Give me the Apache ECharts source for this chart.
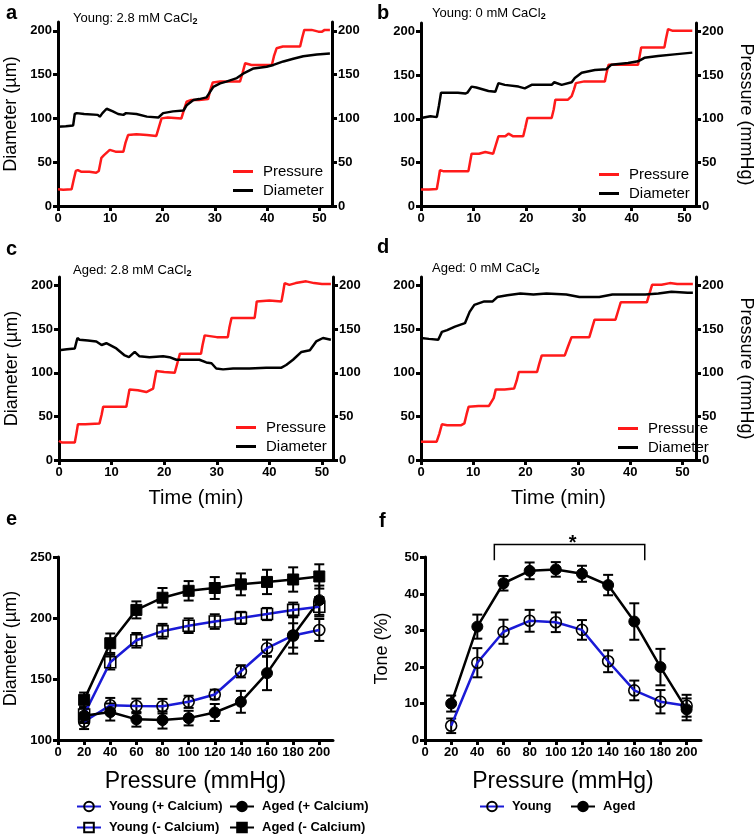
<!DOCTYPE html>
<html>
<head>
<meta charset="utf-8">
<script src="https://cdn.jsdelivr.net/npm/echarts@6/dist/echarts.min.js"></script>
<style>
html, body { margin: 0; padding: 0; background: #fff; }
#chart { width: 756px; height: 835px; }
</style>
</head>
<body>
<div id="chart"></div>
<script>
const aPressure = [[0,19],[1,18.5],[2.6,19],[3.0,30],[3.4,40],[3.8,41],[4.5,39],[6,39],[7.3,38],[7.8,40],[8.3,55],[8.8,58],[9.9,64],[11,62],[12.5,62],[12.9,72],[13.4,81],[15,82],[17,81],[18.8,80],[19.3,90],[19.8,100],[21,101],[23.6,100],[24.1,110],[24.6,119],[25.5,121],[27,121],[28.7,122],[29.1,132],[29.6,141],[31,142],[34.8,142],[35.3,152],[35.8,163],[37,161],[40.9,161],[41.3,171],[41.8,180],[43,182],[46.3,182],[46.7,192],[47.1,201],[48.5,201],[49.8,199],[50.5,199],[51,201],[52,201]];
const aDiameter = [[0,90.5],[1.5,91],[2.9,92],[3.2,105],[3.6,106],[5,105],[7.6,104],[8,102],[8.5,106],[9.3,111],[10.5,108],[11.5,105],[12.5,104],[13,106],[15,105],[17,102],[19.2,101],[20.1,106],[22,108],[24,109],[24.6,115],[25.9,121],[27,122],[28.4,124],[29.7,136],[31,140],[32.2,142],[34.2,146],[35.4,151],[37.4,157],[39.9,159],[41.2,161],[43.1,165],[45,168],[46.9,171],[49.5,173],[52,174]];
const bPressure = [[0,19],[1.5,19],[3,19.5],[3.3,30],[3.6,41],[4.2,40],[6,40],[9,40],[9.3,50],[9.6,60],[11,60],[12.2,62],[13.7,60],[14.2,70],[14.7,80],[16,80],[16.6,83],[17.5,80],[19.4,80],[19.8,90],[20.2,101],[22,101],[24.8,101],[25.2,111],[25.5,122],[27.9,122],[28.6,126],[29,133],[29.4,141],[31,143],[34.9,143],[35.2,152],[35.6,162],[38,162],[41.2,162],[41.5,172],[41.8,182],[44,182],[46.2,182],[46.5,192],[46.9,203],[47.8,201],[51.5,201]];
const bDiameter = [[0,101],[1.8,103],[3,102],[3.4,115],[3.8,130],[5,130],[7,130],[8.4,129],[8.8,130],[9.6,137],[10.5,136],[12.8,132],[14.1,131],[14.7,141],[15.9,139],[18.5,137],[19.7,135],[21,139],[24.8,139],[25.3,142],[26.7,139],[28.6,142],[29.2,147],[30.5,153],[33,156],[35.2,157],[36.1,162],[39.3,164],[41.2,166],[42.4,170],[45,172],[48.1,174],[51.5,176]];
const cPressure = [[0,22],[0.5,20],[3,20],[3.3,30],[3.6,41],[5,41],[7.7,42],[8.1,52],[8.4,61],[10,61],[12.8,61],[13.1,71],[13.4,81],[15,80],[16.6,78],[17.9,82],[18.2,92],[18.5,102],[20,101],[22,100],[22.5,111],[23,122],[25,122],[27,122],[27.3,132],[27.7,143],[30,141],[32.1,141],[32.4,152],[32.8,163],[35,163],[37.2,163],[37.4,172],[37.6,182],[40,183],[42.3,182],[42.6,192],[42.9,203],[43.8,201],[45,203],[47,205],[48.5,203],[50,202],[51.7,202]];
const cDiameter = [[0,126],[1.5,127],[3,128],[3.5,140],[3.9,138],[5.5,137],[7.1,136],[8.1,132],[9,134],[10.9,128],[12.5,120],[13.3,118],[14.4,124],[15.3,119],[17.2,118],[19.8,119],[21,118],[22.3,115],[25.5,115],[26.7,115],[28,112],[29,111],[29.9,105],[31.2,104],[33.1,105],[36.2,105],[39.4,106],[42.3,106],[43.2,109],[44.5,115],[46.1,124],[47.7,126],[48.9,136],[50.2,140],[51.7,138]];
const dPressure = [[0,21],[1.5,21],[3,21],[3.5,30],[4,41],[5,40],[7.7,40],[8.3,42],[8.7,52],[9.1,61],[11,62],[13,62],[13.9,71],[14.3,81],[16,81],[17.8,82],[18.3,91],[18.7,101],[20,101],[22.2,101],[22.6,110],[23.1,120],[25,120],[27.5,120],[28.1,130],[28.8,141],[30,141],[32.2,141],[32.7,151],[33.2,161],[35,161],[37.2,161],[37.7,171],[38.2,181],[41,181],[43.2,181],[43.7,191],[44.2,201],[46,201],[47.6,203],[49,202],[51,202],[52,202]];
const dDiameter = [[0,140],[1.5,139],[3.3,138],[4,147],[5,149],[6.5,153],[8.4,157],[9.3,170],[10.2,178],[12.1,182],[13.7,182],[14.6,187],[16.5,189],[19,191],[21.5,190],[24,191],[27.8,190],[30.3,187],[34.1,187],[36.6,190],[42.9,190],[45.4,191],[47.9,193],[51,192],[52,192]];

// ---- panel e / f summary data ----
const pressureLevels = [20, 40, 60, 80, 100, 120, 140, 160, 180, 200];
const youngCa = [115, 128.6, 128, 127.8, 131.4, 137.4, 156.5, 175.5, 186, 190.5];
const youngCaErr = [6, 6, 6, 6, 5, 4, 5, 7, 10, 9];
const agedCa = [120, 123, 117, 116.4, 118, 122.6, 131.4, 155, 186, 215];
const agedCaErr = [6, 7, 6, 7, 6, 7, 9, 14, 15, 12];
const youngNoCa = [121, 164, 182, 189.5, 194, 197.4, 200.4, 203.6, 207, 209.6];
const youngNoCaErr = [6, 6, 6, 6, 6, 6, 5, 5, 6, 8];
const agedNoCa = [133, 179.6, 207, 217, 222.7, 225, 228, 230, 232, 234.5];
const agedNoCaErr = [6, 8, 7, 8, 8, 9, 9, 10, 10, 10];
const youngTone = [3.9, 21.2, 29.7, 32.7, 32.3, 30.2, 21.6, 13.6, 10.5, 9.4];
const youngToneErr = [2, 4, 3.3, 3, 2.7, 2.7, 3, 2.7, 3.2, 3];
const agedTone = [10, 31.1, 43, 46.4, 46.8, 45.6, 42.5, 32.5, 20, 8.4];
const agedToneErr = [2.2, 3.3, 2, 2.3, 2, 2.2, 2.8, 5, 5, 3];
const sigRange = [53, 168];   // pressures spanned by the significance bracket

// ---- tick labels ----
const timeTicks = [0, 10, 20, 30, 40, 50];
const traceTicks = [0, 50, 100, 150, 200];
const pressureTicks = [0, 20, 40, 60, 80, 100, 120, 140, 160, 180, 200];
const diamTicks = [100, 150, 200, 250];
const toneTicks = [0, 10, 20, 30, 40, 50];

const FONT = "Liberation Sans, Arial, sans-serif";
const RED = "#ff1a1a";
const BLUE = "#1a1ad6";

const grids = [
  { left: 58, top: 22, width: 274, height: 184 },
  { left: 421, top: 23, width: 277, height: 183 },
  { left: 59, top: 277, width: 274, height: 183 },
  { left: 421, top: 277, width: 280, height: 183 },
  { left: 58, top: 557, width: 275, height: 183 },
  { left: 425, top: 557, width: 276, height: 183 },
];

function axisCommon(ticks) {
  return {
    type: "value",
    axisLine: { show: true, onZero: false, lineStyle: { color: "#000", width: 3 } },
    axisTick: { show: true, customValues: ticks, length: 5, lineStyle: { color: "#000", width: 3 } },
    axisLabel: { customValues: ticks, fontSize: 13, fontWeight: "bold", color: "#000", fontFamily: FONT, margin: 6 },
    splitLine: { show: false },
    nameLocation: "middle",
    nameTextStyle: { color: "#000", fontFamily: FONT, fontSize: 18 },
  };
}

function xAx(gi, min, max, ticks, name, size) {
  let a = axisCommon(ticks);
  a.gridIndex = gi;
  a.min = min;
  a.max = max;
  a.name = name;
  a.nameGap = size > 20 ? 30 : 28;
  a.nameTextStyle.fontSize = size;
  return a;
}

function yAx(gi, pos, min, max, ticks, name, gap) {
  let a = axisCommon(ticks);
  a.gridIndex = gi;
  a.position = pos;
  a.min = min;
  a.max = max;
  a.name = name;
  a.nameGap = gap;
  if (pos === "right") a.nameRotate = -90;
  return a;
}

const xAxes = [
  xAx(0, 0, 52.4, timeTicks, "", 20),
  xAx(1, 0, 52.2, timeTicks, "", 20),
  xAx(2, 0, 52.1, timeTicks, "Time (min)", 20),
  xAx(3, 0, 52.6, timeTicks, "Time (min)", 20),
  xAx(4, 0, 210.5, pressureTicks, "Pressure (mmHg)", 23),
  xAx(5, 0, 211, pressureTicks, "Pressure (mmHg)", 23),
];

const yAxes = [
  yAx(0, "left", 0, 210, traceTicks, "Diameter (µm)", 38),
  yAx(0, "right", 0, 210, traceTicks, "", 40),
  yAx(1, "left", 0, 210, traceTicks, "", 38),
  yAx(1, "right", 0, 210, traceTicks, "Pressure (mmHg)", 41),
  yAx(2, "left", 0, 210, traceTicks, "Diameter (µm)", 38),
  yAx(2, "right", 0, 210, traceTicks, "", 40),
  yAx(3, "left", 0, 210, traceTicks, "", 38),
  yAx(3, "right", 0, 210, traceTicks, "Pressure (mmHg)", 41),
  yAx(4, "left", 100, 250.5, diamTicks, "Diameter (µm)", 38),
  yAx(5, "left", 0, 50.2, toneTicks, "Tone (%)", 34),
];

function trace(name, gi, yi, data, color) {
  return {
    name: name, type: "line", xAxisIndex: gi, yAxisIndex: yi,
    data: data, symbol: "none", showSymbol: false,
    lineStyle: { color: color, width: 2.5 }, itemStyle: { color: color },
    z: name === "Pressure" ? 3 : 4,
  };
}

function errorBars(gi, yi, ys, errs) {
  return {
    type: "custom", xAxisIndex: gi, yAxisIndex: yi, silent: true, z: 2,
    data: pressureLevels.map((p, i) => [p, ys[i] - errs[i], ys[i] + errs[i]]),
    encode: { x: 0, y: [1, 2] },
    renderItem: function (params, api) {
      let lo = api.coord([api.value(0), api.value(1)]);
      let hi = api.coord([api.value(0), api.value(2)]);
      let w = 5;
      let st = { stroke: "#000", lineWidth: 2 };
      return {
        type: "group",
        children: [
          { type: "line", shape: { x1: lo[0], y1: lo[1], x2: hi[0], y2: hi[1] }, style: st },
          { type: "line", shape: { x1: lo[0] - w, y1: lo[1], x2: lo[0] + w, y2: lo[1] }, style: st },
          { type: "line", shape: { x1: hi[0] - w, y1: hi[1], x2: hi[0] + w, y2: hi[1] }, style: st },
        ],
      };
    },
  };
}

function meanLine(name, gi, yi, ys, lineColor, symbol, open) {
  return {
    name: name, type: "line", xAxisIndex: gi, yAxisIndex: yi, z: 5,
    data: pressureLevels.map((p, i) => [p, ys[i]]),
    symbol: symbol, symbolSize: 11, showSymbol: true,
    lineStyle: { color: lineColor, width: 2.5 },
    itemStyle: open
      ? { color: "rgba(255,255,255,0)", borderColor: "#000", borderWidth: 1.6 }
      : { color: "#000", borderColor: "#000", borderWidth: 1 },
  };
}

const bracket = {
  type: "custom", xAxisIndex: 5, yAxisIndex: 9, silent: true, clip: false, z: 6,
  data: [[sigRange[0], sigRange[1], 49.3, 53.6]],
  encode: { x: [0, 1], y: [2, 3] },
  renderItem: function (params, api) {
    let l0 = api.coord([api.value(0), api.value(2)]);
    let l1 = api.coord([api.value(0), api.value(3)]);
    let r1 = api.coord([api.value(1), api.value(3)]);
    let r0 = api.coord([api.value(1), api.value(2)]);
    return {
      type: "group",
      children: [
        { type: "polyline", shape: { points: [l0, l1, r1, r0] }, style: { stroke: "#000", lineWidth: 1.5, fill: null } },
        { type: "text", x: (l1[0] + r1[0]) / 2 + 3, y: l1[1] - 1,
          style: { text: "*", fontSize: 20, fontWeight: "bold", fill: "#000", align: "center", verticalAlign: "middle", fontFamily: FONT } },
      ],
    };
  },
};

function panelTitle(txt, left, top) {
  return {
    text: "{t|" + txt + "}{s|2}", left: left, top: top,
    textStyle: {
      rich: {
        t: { fontSize: 13, color: "#000", fontFamily: FONT, fontWeight: "normal" },
        s: { fontSize: 9, color: "#000", fontFamily: FONT, padding: [7, 0, 0, 0] },
      },
    },
  };
}

function letter(ch, left, top) {
  return { text: ch, left: left, top: top, textStyle: { fontSize: 20, fontWeight: "bold", color: "#000", fontFamily: FONT } };
}

function traceLegend(left, top) {
  return {
    left: left, top: top, orient: "vertical", icon: "rect", itemWidth: 20, itemHeight: 3, itemGap: 4,
    data: ["Pressure", "Diameter"], selectedMode: false,
    textStyle: { fontSize: 15, color: "#000", fontFamily: FONT, padding: [0, 0, 0, 5] },
  };
}

function itemLegend(name, left, top) {
  return {
    left: left, top: top, itemWidth: 24, itemHeight: 12, data: [name], selectedMode: false,
    textStyle: { fontSize: 13, fontWeight: "bold", color: "#000", fontFamily: FONT, padding: [0, 0, 0, 3] },
  };
}

let option = {
  backgroundColor: "#fff",
  animation: false,
  title: [
    letter("a", 1, -2), letter("b", 372, -2), letter("c", 1, 234), letter("d", 372, 232),
    letter("e", 1, 504), letter("f", 374, 506),
    panelTitle("Young: 2.8 mM CaCl", 68, 5),
    panelTitle("Young: 0 mM CaCl", 427, 0),
    panelTitle("Aged: 2.8 mM CaCl", 68, 257),
    panelTitle("Aged: 0 mM CaCl", 427, 255),
  ],
  legend: [
    traceLegend(228, 159), traceLegend(594, 162), traceLegend(231, 415), traceLegend(613, 416),
    itemLegend("Young (+ Calcium)", 71, 795), itemLegend("Aged (+ Calcium)", 224, 795),
    itemLegend("Young (- Calcium)", 71, 816), itemLegend("Aged (- Calcium)", 224, 816),
    itemLegend("Young", 474, 795), itemLegend("Aged", 565, 795),
  ],
  grid: grids,
  xAxis: xAxes,
  yAxis: yAxes,
  series: [
    trace("Pressure", 0, 1, aPressure, RED), trace("Diameter", 0, 0, aDiameter, "#000"),
    trace("Pressure", 1, 3, bPressure, RED), trace("Diameter", 1, 2, bDiameter, "#000"),
    trace("Pressure", 2, 5, cPressure, RED), trace("Diameter", 2, 4, cDiameter, "#000"),
    trace("Pressure", 3, 7, dPressure, RED), trace("Diameter", 3, 6, dDiameter, "#000"),
    errorBars(4, 8, youngCa, youngCaErr), errorBars(4, 8, agedCa, agedCaErr),
    errorBars(4, 8, youngNoCa, youngNoCaErr), errorBars(4, 8, agedNoCa, agedNoCaErr),
    meanLine("Young (+ Calcium)", 4, 8, youngCa, BLUE, "circle", true),
    meanLine("Aged (+ Calcium)", 4, 8, agedCa, "#000", "circle", false),
    meanLine("Young (- Calcium)", 4, 8, youngNoCa, BLUE, "rect", true),
    meanLine("Aged (- Calcium)", 4, 8, agedNoCa, "#000", "rect", false),
    errorBars(5, 9, youngTone, youngToneErr), errorBars(5, 9, agedTone, agedToneErr),
    meanLine("Young", 5, 9, youngTone, BLUE, "circle", true),
    meanLine("Aged", 5, 9, agedTone, "#000", "circle", false),
    bracket,
  ],
};

let chart = echarts.init(document.getElementById("chart"));
chart.setOption(option);
</script>
</body>
</html>
